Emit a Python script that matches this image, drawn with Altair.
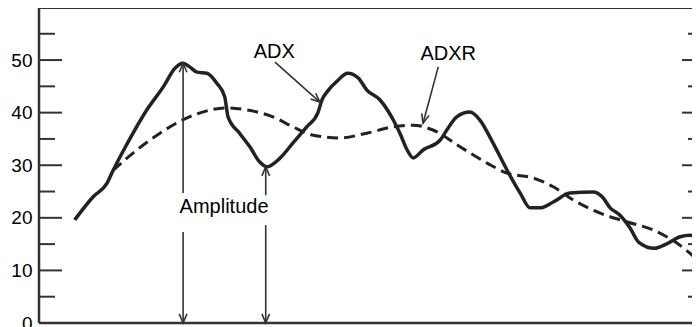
import altair as alt
import pandas as pd

# ADX (solid) readings: x in time units (0..100 across the original frame), y in indicator value
adx_x = [5.4, 8.2, 10.3, 11.2, 13.3, 16.3, 18.8, 20.6, 21.8, 22.8, 23.9, 25.4, 26.9, 28.1, 28.6,
         30.4, 31.9, 33.4, 34.5, 36.5, 38.4, 40.5, 42.2, 42.8, 43.6, 45.1, 46.7, 48.3, 49.6,
         51.6, 53.6, 54.6, 55.7, 56.6, 58.1, 60.7, 61.7, 63.2, 65.2, 66.7, 68.7, 70.8, 72.8,
         74.3, 75.8, 77.8, 80.3, 83.8, 85.2, 86.4, 87.9, 89.4, 90.7, 93.1, 94.9, 97.0, 98.5, 100]
adx_y = [19.6, 24.0, 26.6, 29.0, 34.0, 40.5, 44.9, 48.5, 49.4, 48.7, 47.7, 47.5, 45.6, 43.0, 39.2,
         36.0, 33.5, 30.6, 29.7, 31.4, 34.2, 37.3, 40.0, 42.4, 44.0, 46.0, 47.5, 46.6, 44.3,
         42.4, 38.6, 36.1, 32.9, 31.4, 32.9, 34.8, 36.7, 39.2, 40.1, 38.6, 34.2, 29.1, 24.7,
         21.9, 21.9, 23.0, 24.7, 24.9, 24.0, 21.9, 20.5, 18.1, 15.4, 14.2, 15.0, 16.4, 16.7, 15.8]

# ADXR (dashed)
adxr_x = [11.2, 14.8, 18.3, 22.4, 25.9, 28.4, 31.5, 35.4, 38.4, 41.5, 45.5, 49.6, 53.6, 56.6,
          59.6, 63.7, 67.8, 70.8, 74.7, 77.8, 80.8, 84.9, 89.0, 92.9, 96.5, 100]
adxr_y = [29.0, 32.9, 36.1, 39.0, 40.5, 40.9, 40.5, 39.2, 37.3, 35.7, 35.2, 36.1, 37.3, 37.6,
          36.7, 33.5, 30.4, 28.5, 27.6, 25.9, 23.4, 20.9, 19.2, 17.7, 15.2, 11.6]

y_labels = [0, 10, 20, 30, 40, 50]
major_ticks = [10, 20, 30, 40, 50]
minor_ticks = [5, 15, 25, 35, 45, 55]

# annotation arrows (segments) in data units
seg_x = [21.8, 21.8, 34.3, 34.3, 35.7, 60.4]
seg_y = [49.4, 17.3, 29.7, 18.6, 49.6, 48.7]
seg_x2 = [21.8, 21.8, 34.3, 34.3, 42.5, 58.1]
seg_y2 = [24.7, 0.0, 24.3, 0.0, 42.0, 38.0]

# arrow heads: position and direction (degrees clockwise from up)
head_x = [21.8, 21.8, 34.3, 34.3, 42.5, 58.1]
head_y = [49.4, 0.0, 29.7, 0.0, 42.0, 38.0]
head_angle = [0, 180, 0, 180, 131.6, 195]

labels_text = ["ADX", "ADXR", "Amplitude"]
labels_x = [35.6, 61.9, 28.0]
labels_y = [51.6, 51.1, 22.1]

FONT = "Liberation Sans"
INK = "#222222"
FRAME = "#333333"
W, H = 653, 315

xs = alt.Scale(domain=[0, 98.79], nice=False, zero=False)
ys = alt.Scale(domain=[0, 59.9], nice=False, zero=True)
y_axis = alt.Axis(values=y_labels, ticks=False, domain=False, grid=False,
                  labelFontSize=19, labelPadding=7, labelColor="black",
                  labelFont=FONT, title=None)


def X(field="x"):
    return alt.X(f"{field}:Q", scale=xs, axis=None)


def Y(field="y"):
    return alt.Y(f"{field}:Q", scale=ys, axis=y_axis)


adx_df = pd.DataFrame({"x": adx_x, "y": adx_y})
adxr_df = pd.DataFrame({"x": adxr_x, "y": adxr_y})

adx = alt.Chart(adx_df).mark_line(color=INK, strokeWidth=3.5, interpolate="monotone",
                                  clip=True).encode(x=X(), y=Y())
adxr = alt.Chart(adxr_df).mark_line(color=INK, strokeWidth=3, strokeDash=[11, 6],
                                    interpolate="monotone", clip=True).encode(x=X(), y=Y())

maj_df = pd.DataFrame({"y": major_ticks})
min_df = pd.DataFrame({"y": minor_ticks})
tick_style = dict(color=FRAME, strokeWidth=2)
lmaj = alt.Chart(maj_df).mark_rule(**tick_style).encode(y=Y(), x=alt.value(0), x2=alt.value(23))
lmin = alt.Chart(min_df).mark_rule(**tick_style).encode(y=Y(), x=alt.value(0), x2=alt.value(16))
rmaj = alt.Chart(maj_df).mark_rule(**tick_style).encode(y=Y(), x=alt.value(W - 10), x2=alt.value(W))
rmin = alt.Chart(min_df).mark_rule(**tick_style).encode(y=Y(), x=alt.value(W - 4), x2=alt.value(W))

# frame: left, top and bottom borders (right border lies beyond the picture)
left_b = alt.Chart().mark_rule(color=FRAME, strokeWidth=2.5).encode(
    x=alt.value(0), y=alt.value(0), y2=alt.value(H))
top_b = alt.Chart().mark_rule(color=FRAME, strokeWidth=2).encode(
    y=alt.value(0), x=alt.value(0), x2=alt.value(W))
bot_b = alt.Chart().mark_rule(color=FRAME, strokeWidth=2.5).encode(
    y=alt.value(H), x=alt.value(0), x2=alt.value(W))

seg_df = pd.DataFrame({"x": seg_x, "y": seg_y, "x2": seg_x2, "y2": seg_y2})
segs = alt.Chart(seg_df).mark_rule(color=FRAME, strokeWidth=1.6).encode(
    x=X(), y=Y(), x2="x2:Q", y2="y2:Q")

head_df = pd.DataFrame({"x": head_x, "y": head_y, "a": head_angle})
heads = alt.Chart(head_df).mark_point(
    shape="M -0.42 1 L 0 0 L 0.42 1", filled=False, size=330, strokeWidth=1.6,
    color=FRAME, opacity=1).encode(
    x=X(), y=Y(), angle=alt.Angle("a:Q", scale=None))

lab_df = pd.DataFrame({"t": labels_text, "x": labels_x, "y": labels_y})
labs = alt.Chart(lab_df).mark_text(font=FONT, fontSize=20, color="black", align="center",
                                   baseline="middle").encode(x=X(), y=Y(), text="t:N")

chart = alt.layer(adxr, adx, lmaj, lmin, rmaj, rmin, left_b, top_b, bot_b,
                  segs, heads, labs).properties(
    width=W, height=H,
    autosize=alt.AutoSizeParams(type="none"),
    padding={"left": 31, "top": 0, "right": 0, "bottom": 10},
    background="white",
).configure_view(stroke=None)

chart.save("out.html", embed_options={"renderer": "svg", "actions": False})
